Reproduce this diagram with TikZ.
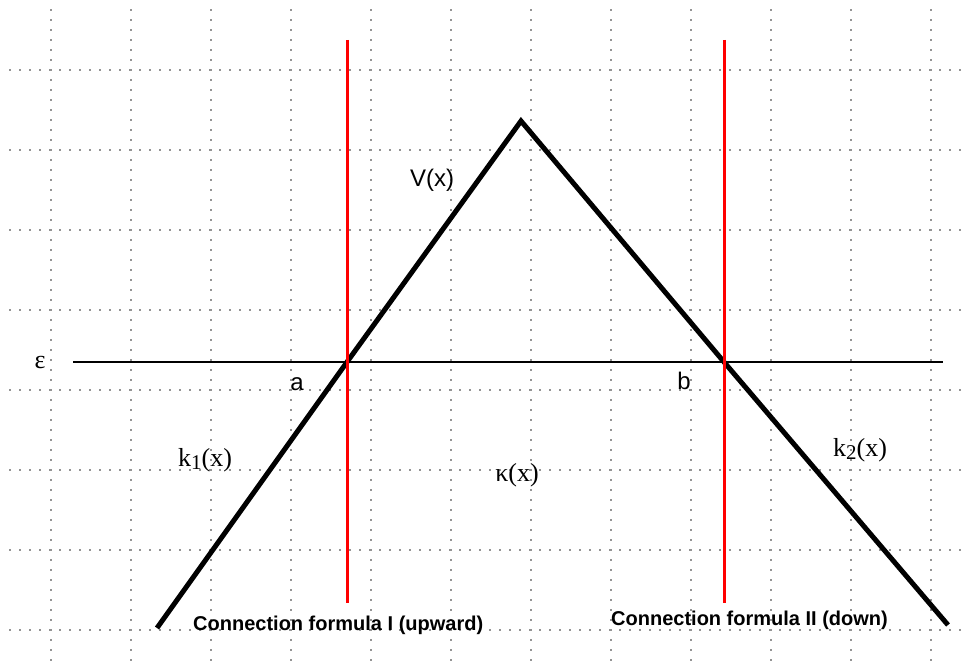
\documentclass[tikz,border=0pt]{standalone}
\usepackage{fontspec}
\setmainfont{Liberation Serif}
\newfontfamily\arialfont{Liberation Sans}
\begin{document}
\begin{tikzpicture}[x=1pt,y=-1pt,
  griddot/.style={fill=black!42},
  potential/.style={line width=5pt,line join=miter,line cap=butt},
  turnline/.style={red,line width=3pt},
  energy/.style={black,line width=1.3pt},
  sanslabel/.style={font=\arialfont\fontsize{24}{28}\selectfont,inner sep=0pt},
  seriflabel/.style={font=\fontsize{26}{30}\selectfont,inner sep=0pt},
  caption/.style={font=\arialfont\bfseries\fontsize{20}{22}\selectfont,inner sep=0pt,anchor=base west}]
\useasboundingbox (0,0) rectangle (962,668);
\fill[white] (0,0) rectangle (962,668);
% dotted grid
\foreach \yy in {70,150,...,630}{
  \foreach \xx in {10,20,...,960}{
    \fill[griddot] (\xx-0.7,\yy-0.7) rectangle (\xx+0.7,\yy+0.7);
  }
}
\foreach \xx in {51,131,...,931}{
  \foreach \yy in {10,20,...,660}{
    \fill[griddot] (\xx-0.7,\yy-0.7) rectangle (\xx+0.7,\yy+0.7);
  }
}
% coordinates
\coordinate (eL) at (73,362);
\coordinate (eR) at (943,362);
\coordinate (p0) at (157,628);
\coordinate (pa) at (347,362);
\coordinate (top) at (521,121);
\coordinate (pb) at (724,362);
\coordinate (p1) at (948,625);
\coordinate (raT) at (347,40);
\coordinate (raB) at (347,603);
\coordinate (rbT) at (724,40);
\coordinate (rbB) at (724,603);
% energy line
\draw[energy] (eL) -- (eR);
% potential
\draw[potential] (p0) -- (pa) -- (top) -- (pb) -- (p1);
% turning point lines
\draw[turnline] (raT) -- (raB);
\draw[turnline] (rbT) -- (rbB);
% labels
\node[seriflabel,anchor=base] (eps) at (40,369) {ε};
\node[sanslabel,anchor=base] (la) at (297,391) {a};
\node[sanslabel,anchor=base] (lb) at (684,390) {b};
\node[sanslabel] (lV) at (432,180) {V(x)};
\node[seriflabel] (lk1) at (205,460) {k\raisebox{-0.28ex}{\fontsize{21}{22}\selectfont 1}(x)};
\node[seriflabel] (lkap) at (517,475) {κ(x)};
\node[seriflabel] (lk2) at (860,450) {k\raisebox{-0.28ex}{\fontsize{21}{22}\selectfont 2}(x)};
\node[caption] (c1) at (193,630) {Connection formula I (upward)};
\node[caption] (c2) at (611,625) {Connection formula II (down)};
\end{tikzpicture}
\end{document}
